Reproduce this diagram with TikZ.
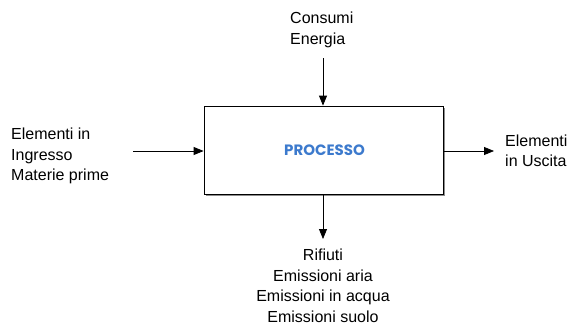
\documentclass[tikz,border=0pt]{standalone}
\usepackage{fontspec}
\setmainfont{Liberation Sans}
\newfontfamily\procfont{Poppins}
\usetikzlibrary{arrows.meta}
\definecolor{procblue}{RGB}{60,122,205}
\begin{document}
\begin{tikzpicture}[x=1pt,y=-1pt,
  lbl/.style={inner sep=0pt,font=\fontsize{16}{20.5}\selectfont},
  flow/.style={draw=black,line width=0.8pt,-{Triangle[length=10pt,width=8pt]}}]
\useasboundingbox[fill=white] (0,0) rectangle (571,325);
\fill[black!45] (205.5,107.5) rectangle (444.5,195.5);
\node[draw=black,fill=white,line width=0.8pt,minimum width=239pt,minimum height=88pt,inner sep=0pt] (proc) at (323.5,150) {};
\node[text=procblue,font=\procfont\bfseries\fontsize{15}{17}\selectfont] (ptxt) at (324.5,150) {PROCESSO};
\node[lbl,anchor=west,align=left] (cons) at (290,30) {Consumi\\Energia};
\node[lbl,anchor=west,align=left] (ing) at (11,156) {Elementi in\\Ingresso\\Materie prime};
\node[lbl,anchor=west,align=left] (usc) at (505,151) {Elementi\\in Uscita};
\node[lbl,anchor=center,align=center] (out) at (323,286) {Rifiuti\\Emissioni aria\\Emissioni in acqua\\Emissioni suolo};
\coordinate (topstart) at (323,58);
\coordinate (leftstart) at (133,151);
\coordinate (rightend) at (494,151);
\coordinate (botend) at (323,239);
\draw[flow] (topstart) -- (topstart |- proc.north);
\draw[flow] (leftstart) -- (leftstart -| proc.west);
\draw[flow] (proc.east |- rightend) -- (rightend);
\draw[flow] (proc.south -| botend) -- (botend);
\end{tikzpicture}
\end{document}
